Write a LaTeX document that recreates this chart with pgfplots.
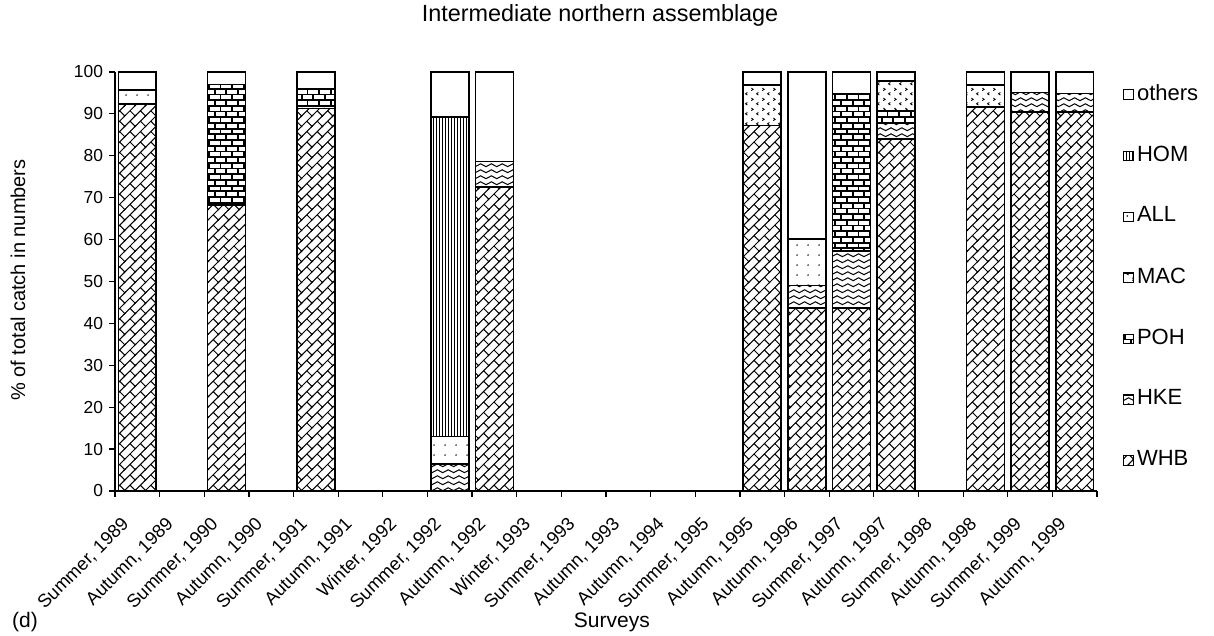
\documentclass[border=0pt]{standalone}
\usepackage{fontspec}
\setmainfont{Liberation Sans}
\usepackage{pgfplots}
\usepackage{pgfplotstable}
\pgfplotsset{compat=1.18}
\usetikzlibrary{patterns}

% ---- fill patterns for the species ----
% diagonal brick (WHB)
\pgfdeclarepatternformonly{dbrick}{\pgfqpoint{-1pt}{-1pt}}{\pgfqpoint{6.2pt}{6.2pt}}{\pgfqpoint{5.2pt}{5.2pt}}{%
  \pgfsetlinewidth{0.5pt}%
  \pgfpathmoveto{\pgfqpoint{-0.5pt}{-0.5pt}}\pgfpathlineto{\pgfqpoint{5.7pt}{5.7pt}}%
  \pgfpathmoveto{\pgfqpoint{2.6pt}{2.6pt}}\pgfpathlineto{\pgfqpoint{5.2pt}{0pt}}%
  \pgfusepath{stroke}}
% wave (HKE)
\pgfdeclarepatternformonly{wave}{\pgfqpoint{-0.5pt}{-0.5pt}}{\pgfqpoint{5.9pt}{3.5pt}}{\pgfqpoint{5.4pt}{3pt}}{%
  \pgfsetlinewidth{0.5pt}%
  \pgfpathmoveto{\pgfqpoint{-0.2pt}{0.6pt}}%
  \pgfpathcurveto{\pgfqpoint{1.35pt}{0.6pt}}{\pgfqpoint{1.35pt}{2.1pt}}{\pgfqpoint{2.7pt}{2.1pt}}%
  \pgfpathcurveto{\pgfqpoint{4.05pt}{2.1pt}}{\pgfqpoint{4.05pt}{0.6pt}}{\pgfqpoint{5.6pt}{0.6pt}}%
  \pgfusepath{stroke}}
% horizontal brick (POH)
\pgfdeclarepatternformonly{hbrick}{\pgfqpoint{-1pt}{-1pt}}{\pgfqpoint{7pt}{7pt}}{\pgfqpoint{5.8pt}{5.7pt}}{%
  \pgfsetlinewidth{0.9pt}%
  \pgfpathmoveto{\pgfqpoint{-0.2pt}{0pt}}\pgfpathlineto{\pgfqpoint{6pt}{0pt}}%
  \pgfpathmoveto{\pgfqpoint{-0.2pt}{2.85pt}}\pgfpathlineto{\pgfqpoint{6pt}{2.85pt}}%
  \pgfpathmoveto{\pgfqpoint{0pt}{0pt}}\pgfpathlineto{\pgfqpoint{0pt}{2.85pt}}%
  \pgfpathmoveto{\pgfqpoint{2.9pt}{2.85pt}}\pgfpathlineto{\pgfqpoint{2.9pt}{5.7pt}}%
  \pgfusepath{stroke}}
% divot (MAC)
\pgfdeclarepatternformonly{divot}{\pgfqpoint{0pt}{0pt}}{\pgfqpoint{5.6pt}{5pt}}{\pgfqpoint{5.6pt}{5pt}}{%
  \pgfsetlinewidth{0.45pt}%
  \pgfpathmoveto{\pgfqpoint{0.7pt}{2.9pt}}\pgfpathlineto{\pgfqpoint{1.7pt}{3.6pt}}\pgfpathlineto{\pgfqpoint{0.7pt}{4.3pt}}%
  \pgfpathmoveto{\pgfqpoint{4.5pt}{0.5pt}}\pgfpathlineto{\pgfqpoint{3.5pt}{1.2pt}}\pgfpathlineto{\pgfqpoint{4.5pt}{1.9pt}}%
  \pgfusepath{stroke}}
% sparse dots (ALL)
\pgfdeclarepatternformonly{sdots}{\pgfqpoint{0pt}{0pt}}{\pgfqpoint{5.5pt}{5.2pt}}{\pgfqpoint{5.5pt}{5.2pt}}{%
  \pgfpathcircle{\pgfqpoint{2.75pt}{2.6pt}}{0.45pt}\pgfusepath{fill}}
% narrow vertical lines (HOM)
\pgfdeclarepatternformonly{vlines}{\pgfqpoint{0pt}{-0.5pt}}{\pgfqpoint{1.5pt}{1.5pt}}{\pgfqpoint{1.5pt}{1pt}}{%
  \pgfsetlinewidth{0.5pt}%
  \pgfpathmoveto{\pgfqpoint{0.75pt}{-0.5pt}}\pgfpathlineto{\pgfqpoint{0.75pt}{1.5pt}}%
  \pgfusepath{stroke}}

% percentage of total catch, one row per survey that has data
% x = category slot (0 = Summer 1989 ... 21 = Autumn 1999), bars sit mid-slot
\pgfplotstableread{
x     WHB   HKE   POH   MAC   ALL   HOM   oth
0.5   92.3  0     0     0     3.4   0     4.3
2.5   68.3  0     28.7  0     0     0     3.0
4.5   91.3  0.5   4.3   0     0     0     3.9
7.5   0     6.4   0     0     6.6   76.3  10.7
8.5   72.5  6.1   0     0     0     0     21.4
14.5  87.2  0     0     9.7   0     0     3.1
15.5  43.7  5.3   0     0     11.1  0     39.9
16.5  43.7  13.6  37.6  0     0     0     5.1
17.5  84.0  3.7   3.1   7.1   0     0     2.1
19.5  91.7  0     0     5.2   0     0     3.1
20.5  90.5  4.6   0     0     0     0     4.9
21.5  90.5  4.4   0     0     0     0     5.1
}\catch

% slanted survey name hanging below a category boundary
\newcommand\survey[2]{%
  \node[rotate=45, anchor=east, inner sep=0pt, font=\fontsize{9.2}{10}\selectfont]
    at (axis cs:#1,-7.2) {#2};}

\begin{document}
\begin{tikzpicture}
\useasboundingbox (-57.5pt,-72.5pt) rectangle (549.5pt,245.5pt);
\begin{axis}[
  at={(0pt,0pt)}, anchor=south west,
  scale only axis, width=491pt, height=209.5pt,
  xmin=0, xmax=22, ymin=0, ymax=100,
  clip=false,
  axis lines*=left,
  axis line style={line width=0.7pt},
  tick align=outside, major tick length=3pt,
  tick style={black, line width=0.6pt},
  xtick={0,...,22}, xticklabels={},
  ytick={0,10,...,100},
  yticklabel style={font=\fontsize{8.7}{10}\selectfont, anchor=east, inner sep=0pt, xshift=-2.8pt},
  /pgf/number format/assume math mode=true,
  ybar stacked, bar width=0.85,
  every axis title shift=0pt,
  title={Intermediate northern assemblage},
  title style={at={(axis description cs:0.494,1.136)}, anchor=center,
    font=\fontsize{11.7}{13}\selectfont},
  xlabel={Surveys},
  xlabel style={at={(axis description cs:0.506,-0.3126)}, anchor=center,
    font=\fontsize{10.5}{12}\selectfont},
  ylabel={\% of total catch in numbers},
  ylabel style={at={(axis description cs:-0.0988,0.5036)}, anchor=center,
    font=\fontsize{10}{12}\selectfont},
  legend cell align=left,
  reverse legend,
  legend style={draw=none, fill=none, at={(1.0263,0.972)}, anchor=north west,
    font=\fontsize{11}{12}\selectfont, inner sep=0pt, row sep=21.35pt,
    column sep=1.5pt, nodes={inner sep=0pt}},
  legend image code/.code={\draw[#1, line width=0.6pt] (0pt,-2.9pt) rectangle (4.8pt,1.9pt);},
  every axis plot/.append style={draw=black, line width=0.8pt},
]
\addplot[pattern=dbrick] table[x=x, y=WHB] {\catch};
\addplot[pattern=wave]   table[x=x, y=HKE] {\catch};
\addplot[pattern=hbrick] table[x=x, y=POH] {\catch};
\addplot[pattern=divot]  table[x=x, y=MAC] {\catch};
\addplot[pattern=sdots]  table[x=x, y=ALL] {\catch};
\addplot[pattern=vlines] table[x=x, y=HOM] {\catch};
\addplot[fill=white]     table[x=x, y=oth] {\catch};
\legend{WHB,HKE,POH,MAC,ALL,HOM,others}
\survey{0.25}{Summer, 1989}
\survey{1.25}{Autumn, 1989}
\survey{2.25}{Summer, 1990}
\survey{3.25}{Autumn, 1990}
\survey{4.25}{Summer, 1991}
\survey{5.25}{Autumn, 1991}
\survey{6.25}{Winter, 1992}
\survey{7.25}{Summer, 1992}
\survey{8.25}{Autumn, 1992}
\survey{9.25}{Winter, 1993}
\survey{10.25}{Summer, 1993}
\survey{11.25}{Autumn, 1993}
\survey{12.25}{Autumn, 1994}
\survey{13.25}{Summer, 1995}
\survey{14.25}{Autumn, 1995}
\survey{15.25}{Autumn, 1996}
\survey{16.25}{Summer, 1997}
\survey{17.25}{Autumn, 1997}
\survey{18.25}{Summer, 1998}
\survey{19.25}{Autumn, 1998}
\survey{20.25}{Summer, 1999}
\survey{21.25}{Autumn, 1999}
\node[anchor=west, font=\fontsize{10.5}{12}\selectfont] at (axis description cs:-0.112,-0.3126) {(d)};
\end{axis}
\end{tikzpicture}
\end{document}
